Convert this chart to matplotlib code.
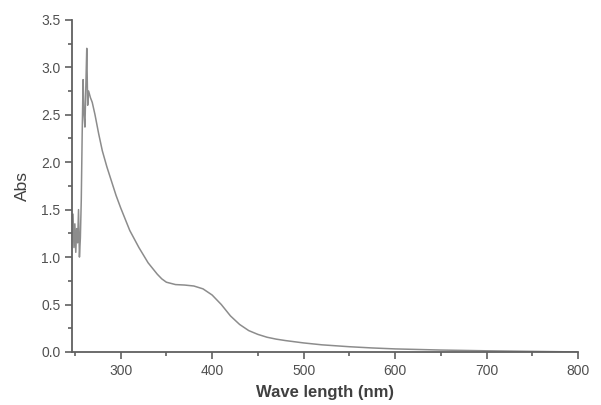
import matplotlib.pyplot as plt
from matplotlib.ticker import MultipleLocator

plt.rcParams['font.family'] = ['Liberation Sans', 'DejaVu Sans']

# wavelength (nm) and absorbance
wave = [248, 249, 250, 251, 252, 253, 254, 255, 256, 257, 258, 259, 260, 261, 262, 263,
        264, 265, 267, 269, 272, 276, 280, 285, 290, 295, 300, 305, 310, 320, 330, 340,
        345, 350, 360, 370, 380, 390, 400, 410, 420, 430, 440, 450, 460, 470, 480, 500, 520,
        550, 575, 600, 650, 700, 750, 800]
absorb = [1.45, 1.1, 1.35, 1.05, 1.3, 1.15, 1.5, 1.0, 1.2, 1.6, 2.3, 2.87, 2.5, 2.37, 2.8, 3.2,
          2.6, 2.75, 2.68, 2.63, 2.5, 2.3, 2.12, 1.95, 1.8, 1.65, 1.52, 1.4, 1.28, 1.1, 0.94, 0.82,
          0.77, 0.735, 0.71, 0.705, 0.695, 0.665, 0.6, 0.5, 0.38, 0.29, 0.225, 0.185, 0.155, 0.135,
          0.12, 0.095, 0.075, 0.055, 0.042, 0.032, 0.02, 0.012, 0.006, 0.0]

fig = plt.figure(figsize=(6.01, 4.05), dpi=100)
ax = fig.add_axes([0.12, 0.131, 0.842, 0.82])

ax.plot(wave, absorb, color='#8c8c8c', linewidth=1.1)

ax.set_xlim(247, 800)
ax.set_ylim(0, 3.5)
ax.xaxis.set_major_locator(MultipleLocator(100))
ax.xaxis.set_minor_locator(MultipleLocator(50))
ax.yaxis.set_major_locator(MultipleLocator(0.5))
ax.yaxis.set_minor_locator(MultipleLocator(0.25))
ax.yaxis.set_major_formatter(plt.FormatStrFormatter('%.1f'))

for s in ['top', 'right']:
    ax.spines[s].set_visible(False)
for s in ['left', 'bottom']:
    ax.spines[s].set_color('#606060')
    ax.spines[s].set_linewidth(1.3)

ax.tick_params(which='both', direction='out', color='#606060', width=1.2)
ax.tick_params(which='major', length=5, labelsize=10, labelcolor='#505050')
ax.tick_params(which='minor', length=3)

ax.set_xlabel('Wave length (nm)', fontsize=12, fontweight='bold', color='#404040', labelpad=5)
ax.set_ylabel('Abs', fontsize=12.5, color='#404040', labelpad=8)

fig.savefig('out.png', dpi=100)
